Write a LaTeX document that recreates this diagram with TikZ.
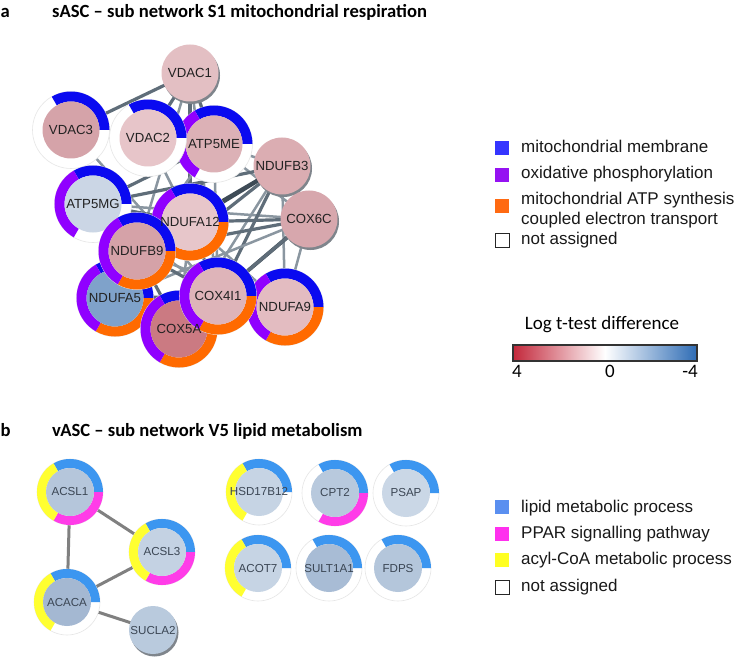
\documentclass[tikz,border=0pt]{standalone}
\usepackage{fontspec}
\setmainfont{Liberation Sans}
\newfontfamily\calib{Carlito}
\usetikzlibrary{calc}
\definecolor{mmb}{HTML}{0A0AF0}
\definecolor{oxp}{HTML}{9000FF}
\definecolor{atp}{HTML}{FF6A00}
\definecolor{lmp}{HTML}{3C96F0}
\definecolor{ppar}{HTML}{FF3CE8}
\definecolor{acyl}{HTML}{FFFF30}
\definecolor{lgmmb}{HTML}{3535FF}
\definecolor{lgoxp}{HTML}{9512F2}
\definecolor{lgatp}{HTML}{FF6A12}
\definecolor{lglmp}{HTML}{5A8FF0}
\definecolor{lgppar}{HTML}{FF30EE}
\definecolor{lgacyl}{HTML}{FFFF22}
\definecolor{ringedge}{HTML}{E6E6E6}
\definecolor{shadowc}{HTML}{7F858C}
\definecolor{eA}{HTML}{8A96A0}
\definecolor{eB}{HTML}{5F6D79}
\definecolor{eC}{HTML}{3E4B56}
\definecolor{eb}{HTML}{808080}
\definecolor{barred}{HTML}{C3283B}
\definecolor{barblue}{HTML}{2E6CB5}
\definecolor{labA}{HTML}{222222}
\definecolor{labB}{HTML}{3B4654}
\definecolor{tmpc}{HTML}{FFFFFF}
\newcommand\ringsec[4]{\fill[#4] ($(#1)+(#2:\Ro)$) arc[start angle=#2,end angle=#3,radius=\Ro] -- ($(#1)+(#3:\Ri)$) arc[start angle=#3,end angle=#2,radius=\Ri] -- cycle;}
\newcommand\gbase[1]{\fill[white,draw=ringedge,line width=0.6] (#1) circle[radius=\Ro];}
\newcommand\gcore[2]{\definecolor{tmpc}{HTML}{#2}\fill[tmpc] (#1) circle[radius=\Ri];}
\newcommand\gshadow[1]{\fill[shadowc] ($(#1)+(1.5,2.5)$) circle[radius=\Ri];}
\tikzset{
  thinedge/.style={draw=eA,line width=2.5},
  midedge/.style={draw=eB,line width=3.2},
  darkedge/.style={draw=eC,line width=3.8},
  bedge/.style={draw=eb,line width=3},
  labelA/.style={text=labA,font=\fontsize{13.2}{15}\selectfont,inner sep=0},
  labelB/.style={text=labB,font=\fontsize{11.6}{13}\selectfont,inner sep=0},
  title/.style={font=\calib\bfseries\fontsize{18.6}{21}\selectfont,inner sep=0,anchor=base west},
  legtext/.style={font=\fontsize{17}{20}\selectfont,inner sep=0,anchor=base west,text=black!90},
  legsq/.style={minimum size=14,inner sep=0},
  bartext/.style={font=\calib\fontsize{19}{22}\selectfont,inner sep=0,anchor=base}
}
\begin{document}
\begin{tikzpicture}[x=1pt,y=-1pt]
\useasboundingbox[fill=white] (0,0) rectangle (735,660);
% titles
\node[title] (ta) at (0.5,17.5) {a};
\node[title] (tta) at (52,17.5) {sASC – sub network S1 mitochondrial respiration};
\node[title] (tb) at (0.5,436.5) {b};
\node[title] (ttb) at (52,436.5) {vASC – sub network V5 lipid metabolism};
% ---------- part a coordinates
\coordinate (VDAC1) at (190,73);
\coordinate (VDAC3) at (71,130);
\coordinate (VDAC2) at (148,138);
\coordinate (ATP5ME) at (214,144);
\coordinate (NDUFB3) at (282,166);
\coordinate (ATP5MG) at (93,204);
\coordinate (NDUFA12) at (190,222);
\coordinate (COX6C) at (309,219);
\coordinate (NDUFB9) at (137,251);
\coordinate (NDUFA5) at (115,298);
\coordinate (COX4I1) at (218,296);
\coordinate (NDUFA9) at (285,307);
\coordinate (COX5A) at (179,329);
% edges a
\draw[midedge] (VDAC1) -- (VDAC3);
\draw[midedge] (VDAC1) -- (VDAC2);
\draw[midedge] (VDAC1) -- (ATP5ME);
\draw[midedge] (VDAC1) -- (NDUFA12);
\draw[thinedge] (VDAC1) -- (COX4I1);
\draw[thinedge] (VDAC1) -- (NDUFB9);
\draw[thinedge] (VDAC3) -- (COX4I1);
\draw[thinedge] (VDAC2) -- (NDUFA12);
\draw[midedge] (ATP5ME) -- (NDUFA12);
\draw[thinedge] (ATP5ME) -- (NDUFB3);
\draw[thinedge] (ATP5ME) -- (COX6C);
\draw[thinedge] (ATP5ME) -- (COX4I1);
\draw[thinedge] (ATP5ME) -- (NDUFB9);
\draw[midedge] (ATP5ME) -- (ATP5MG);
\draw[midedge] (ATP5MG) -- (NDUFA12);
\draw[midedge] (ATP5MG) -- (NDUFB3);
\draw[thinedge] (ATP5MG) -- (COX6C);
\draw[thinedge] (ATP5MG) -- (COX4I1);
\draw[darkedge] (NDUFB3) -- (NDUFA12);
\draw[darkedge] (NDUFB3) -- (NDUFB9);
\draw[midedge] (NDUFB3) -- (NDUFA5);
\draw[midedge] (NDUFB3) -- (COX4I1);
\draw[thinedge] (NDUFB3) -- (COX5A);
\draw[thinedge] (NDUFB3) -- (NDUFA9);
\draw[midedge] (NDUFB3) -- (COX6C);
\draw[midedge] (COX6C) -- (NDUFA12);
\draw[midedge] (COX6C) -- (NDUFB9);
\draw[thinedge] (COX6C) -- (NDUFA5);
\draw[darkedge] (COX6C) -- (COX4I1);
\draw[midedge] (COX6C) -- (COX5A);
\draw[thinedge] (COX6C) -- (NDUFA9);
\draw[midedge] (NDUFA12) -- (NDUFB9);
\draw[midedge] (NDUFA12) -- (COX4I1);
\draw[midedge] (NDUFA12) -- (NDUFA5);
\draw[thinedge] (NDUFA12) -- (COX5A);
\draw[thinedge] (NDUFA12) -- (NDUFA9);
\draw[midedge] (NDUFB9) -- (COX4I1);
\draw[midedge] (NDUFB9) -- (COX5A);
\draw[thinedge] (NDUFB9) -- (NDUFA9);
\draw[midedge] (NDUFA5) -- (COX4I1);
\draw[thinedge] (NDUFA5) -- (NDUFA9);
\draw[midedge] (COX4I1) -- (NDUFA9);
\draw[thinedge] (COX5A) -- (NDUFA9);
% nodes a
\def\Ro{38.5}\def\Ri{28.5}
\gshadow{VDAC1}\gcore{VDAC1}{E3BFC3}
\gshadow{NDUFB3}\gcore{NDUFB3}{DBADB2}
\gshadow{COX6C}\gcore{COX6C}{D7A7AD}
\gbase{VDAC3}\ringsec{VDAC3}{-120}{0}{mmb}\gcore{VDAC3}{D5A3A9}
\gbase{ATP5ME}\ringsec{ATP5ME}{-120}{0}{mmb}\ringsec{ATP5ME}{120}{240}{oxp}\gcore{ATP5ME}{DCB1B6}
\gbase{VDAC2}\ringsec{VDAC2}{-120}{0}{mmb}\gcore{VDAC2}{E7C5C9}
\gbase{ATP5MG}\ringsec{ATP5MG}{-120}{0}{mmb}\ringsec{ATP5MG}{120}{240}{oxp}\gcore{ATP5MG}{CBD6E5}
\gbase{NDUFA12}\ringsec{NDUFA12}{-120}{0}{mmb}\ringsec{NDUFA12}{0}{120}{atp}\ringsec{NDUFA12}{120}{240}{oxp}\gcore{NDUFA12}{E7C6CA}
\gbase{NDUFA5}\ringsec{NDUFA5}{-120}{0}{mmb}\ringsec{NDUFA5}{0}{120}{atp}\ringsec{NDUFA5}{120}{240}{oxp}\gcore{NDUFA5}{7FA2CA}
\gbase{NDUFB9}\ringsec{NDUFB9}{-120}{0}{mmb}\ringsec{NDUFB9}{0}{120}{atp}\ringsec{NDUFB9}{120}{240}{oxp}\gcore{NDUFB9}{D5A2A8}
\gbase{COX5A}\ringsec{COX5A}{-120}{0}{mmb}\ringsec{COX5A}{0}{120}{atp}\ringsec{COX5A}{120}{240}{oxp}\gcore{COX5A}{CB7A82}
\gbase{NDUFA9}\ringsec{NDUFA9}{-120}{0}{mmb}\ringsec{NDUFA9}{0}{120}{atp}\ringsec{NDUFA9}{120}{240}{oxp}\gcore{NDUFA9}{E3BCC1}
\gbase{COX4I1}\ringsec{COX4I1}{-120}{0}{mmb}\ringsec{COX4I1}{0}{120}{atp}\ringsec{COX4I1}{120}{240}{oxp}\gcore{COX4I1}{DEB4B9}
% labels a
\node[labelA] (lVDAC1) at (VDAC1) {VDAC1};
\node[labelA] (lVDAC3) at (VDAC3) {VDAC3};
\node[labelA] (lVDAC2) at (VDAC2) {VDAC2};
\node[labelA] (lATP5ME) at (ATP5ME) {ATP5ME};
\node[labelA] (lNDUFB3) at (NDUFB3) {NDUFB3};
\node[labelA] (lATP5MG) at (ATP5MG) {ATP5MG};
\node[labelA] (lNDUFA12) at (NDUFA12) {NDUFA12};
\node[labelA] (lCOX6C) at (COX6C) {COX6C};
\node[labelA] (lNDUFB9) at (NDUFB9) {NDUFB9};
\node[labelA] (lNDUFA5) at (NDUFA5) {NDUFA5};
\node[labelA] (lCOX4I1) at (COX4I1) {COX4I1};
\node[labelA] (lNDUFA9) at (NDUFA9) {NDUFA9};
\node[labelA] (lCOX5A) at (COX5A) {COX5A};
% legend a
\node[legsq,fill=lgmmb] (sqa1) at (502,148) {};
\node[legsq,fill=lgoxp] (sqa2) at (502,175) {};
\node[legsq,fill=lgatp] (sqa3) at (502,206) {};
\node[legsq,draw=black!85,line width=1] (sqa4) at (502,240) {};
\node[legtext] (lga1) at (521,153) {mitochondrial membrane};
\node[legtext] (lga2) at (521,179) {oxidative phosphorylation};
\node[legtext] (lga3) at (521,204.5) {mitochondrial ATP synthesis};
\node[legtext] (lga3b) at (521,224) {coupled electron transport};
\node[legtext] (lga4) at (521,244.5) {not assigned};
% colour bar
\node[bartext] (bartitle) at (602,329) {Log t-test difference};
\shade[left color=barred,right color=white] (513,345) rectangle (605,361);
\shade[left color=white,right color=barblue] (605,345) rectangle (697,361);
\draw[black!80,line width=1.4] (513,345) rectangle (697,361);
\node[bartext] (b4) at (517,377) {4};
\node[bartext] (b0) at (610,377) {0};
\node[bartext] (bm4) at (690,377) {-4};
% ---------- part b coordinates
\coordinate (ACSL1) at (70,492);
\coordinate (ACSL3) at (162,552);
\coordinate (ACACA) at (67,602);
\coordinate (SUCLA2) at (153,630);
\coordinate (HSD17B12) at (259,492);
\coordinate (CPT2) at (335,493);
\coordinate (PSAP) at (406,493);
\coordinate (ACOT7) at (258,568);
\coordinate (SULT1A1) at (329,568);
\coordinate (FDPS) at (398,568);
\draw[bedge] (ACSL1) -- (ACACA);
\draw[bedge] (ACSL1) -- (ACSL3);
\draw[bedge] (ACSL3) -- (ACACA);
\draw[bedge] (ACACA) -- (SUCLA2);
\def\Ro{33}\def\Ri{24}
\gshadow{SUCLA2}\gcore{SUCLA2}{B9CADD}
\gbase{ACSL1}\ringsec{ACSL1}{-120}{0}{lmp}\ringsec{ACSL1}{0}{120}{ppar}\ringsec{ACSL1}{120}{240}{acyl}\gcore{ACSL1}{B5C6DB}
\gbase{ACSL3}\ringsec{ACSL3}{-120}{0}{lmp}\ringsec{ACSL3}{0}{120}{ppar}\ringsec{ACSL3}{120}{240}{acyl}\gcore{ACSL3}{C4D2E3}
\gbase{ACACA}\ringsec{ACACA}{-120}{0}{lmp}\ringsec{ACACA}{120}{240}{acyl}\gcore{ACACA}{A4B8D2}
\gbase{HSD17B12}\ringsec{HSD17B12}{-120}{0}{lmp}\ringsec{HSD17B12}{120}{240}{acyl}\gcore{HSD17B12}{C6D4E4}
\gbase{CPT2}\ringsec{CPT2}{-120}{0}{lmp}\ringsec{CPT2}{0}{120}{ppar}\gcore{CPT2}{B8C9DD}
\gbase{PSAP}\ringsec{PSAP}{-120}{0}{lmp}\gcore{PSAP}{CAD7E6}
\gbase{ACOT7}\ringsec{ACOT7}{-120}{0}{lmp}\ringsec{ACOT7}{120}{240}{acyl}\gcore{ACOT7}{C6D4E4}
\gbase{SULT1A1}\ringsec{SULT1A1}{-120}{0}{lmp}\gcore{SULT1A1}{A8BCD5}
\gbase{FDPS}\ringsec{FDPS}{-120}{0}{lmp}\gcore{FDPS}{B4C6DB}
\node[labelB] (lACSL1) at (ACSL1) {ACSL1};
\node[labelB] (lACSL3) at (ACSL3) {ACSL3};
\node[labelB] (lACACA) at (ACACA) {ACACA};
\node[labelB] (lSUCLA2) at (SUCLA2) {SUCLA2};
\node[labelB] (lHSD17B12) at (HSD17B12) {HSD17B12};
\node[labelB] (lCPT2) at (CPT2) {CPT2};
\node[labelB] (lPSAP) at (PSAP) {PSAP};
\node[labelB] (lACOT7) at (ACOT7) {ACOT7};
\node[labelB] (lSULT1A1) at (SULT1A1) {SULT1A1};
\node[labelB] (lFDPS) at (FDPS) {FDPS};
% legend b
\node[legsq,fill=lglmp] (sqb1) at (502,507) {};
\node[legsq,fill=lgppar] (sqb2) at (502,533.5) {};
\node[legsq,fill=lgacyl] (sqb3) at (502,560) {};
\node[legsq,draw=black!85,line width=1] (sqb4) at (502,587) {};
\node[legtext] (lgb1) at (521,512.5) {lipid metabolic process};
\node[legtext] (lgb2) at (521,538.5) {PPAR signalling pathway};
\node[legtext] (lgb3) at (521,564.5) {acyl-CoA metabolic process};
\node[legtext] (lgb4) at (521,591.5) {not assigned};
\end{tikzpicture}
\end{document}
